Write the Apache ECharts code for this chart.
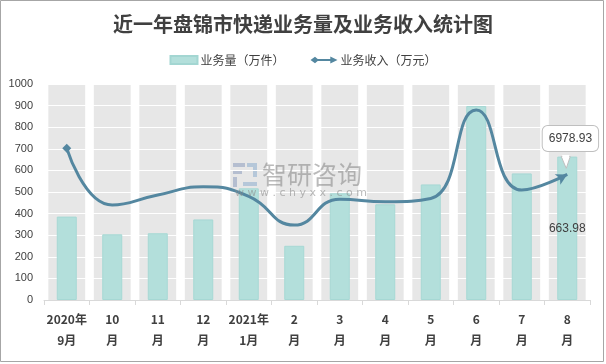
<!DOCTYPE html>
<html>
<head>
<meta charset="utf-8">
<script src="https://cdn.jsdelivr.net/npm/echarts@6/dist/echarts.min.js"></script>
<style>
html,body{margin:0;padding:0;background:#fff;}
#c{width:606px;height:364px;}
</style>
</head>
<body>
<div id="c"></div>
<script>
const categories = ['2020年\n9月','10\n月','11\n月','12\n月','2021年\n1月','2\n月','3\n月','4\n月','5\n月','6\n月','7\n月','8\n月'];
const volume = [386, 304, 309, 373, 517, 251, 494, 443, 535, 898, 586, 663.98];   // 业务量（万件）
const revenue = [8424, 5280, 5832, 6288, 5760, 4164, 5604, 5460, 5640, 10560, 6108, 6978.93]; // 业务收入（万元）
const yTicks = [0, 100, 200, 300, 400, 500, 600, 700, 800, 900, 1000];
const yMax = 1000;
const y2Max = 12000;

const lastIdx = categories.length - 1;
const chart = echarts.init(document.getElementById('c'), null, {renderer: 'canvas'});
const cjk = '"Noto Sans CJK SC", "Noto Sans", sans-serif';
const labelDist = 18;

const lineData = revenue.map((v, i) => {
  if (i === 0) return {value: v, symbol: 'diamond', symbolSize: 9};
  if (i === lastIdx) return {
    value: v, symbol: 'arrow', symbolSize: [9, 11], symbolRotate: -62,
    label: {
      show: true, position: 'top', distance: labelDist, offset: [8, 0],
      formatter: (p) => p.value.toFixed(2),
      color: '#404040', fontSize: 12, fontFamily: 'Liberation Sans, Arial, sans-serif',
      backgroundColor: '#fff', borderColor: '#bfbfbf', borderWidth: 1, borderRadius: 5,
      padding: [7, 6, 6, 6]
    }
  };
  return {value: v, symbol: 'none'};
});

const option = {
  animation: false,
  backgroundColor: '#fff',
  title: {
    text: '近一年盘锦市快递业务量及业务收入统计图',
    left: 'center', top: 9,
    textStyle: {fontSize: 20, fontWeight: 'bold', color: '#404040', fontFamily: cjk}
  },
  legend: {
    top: 49, left: 'center', itemGap: 26,
    textStyle: {fontSize: 12, color: '#404040', fontFamily: cjk, padding: [0, 0, 0, -2]},
    data: [
      {name: '业务量（万件）', icon: 'rect', itemStyle: {color: '#b3dfdb', borderColor: '#a3d6d2'}},
      {name: '业务收入（万元）', icon: 'path://M0,5 L5,1.5 L8,4 L22,4 L22,1 L30,5 L22,9 L22,6 L8,6 L5,8.5 Z', itemStyle: {color: '#5487a0'}}
    ],
    itemWidth: 27, itemHeight: 8
  },
  grid: {left: 44, right: 16, top: 84, bottom: 64},
  xAxis: [
    {
      type: 'category', data: categories,
      axisLine: {lineStyle: {color: '#d9d9d9'}},
      axisTick: {show: true, length: 5, lineStyle: {color: '#d9d9d9'}},
      axisLabel: {interval: 0, color: '#404040', fontSize: 12, fontWeight: 'bold', fontFamily: cjk, lineHeight: 21, margin: 9}
    },
    {type: 'category', data: categories, show: false}
  ],
  yAxis: [
    {
      type: 'value', min: yTicks[0], max: yMax, interval: yTicks[1] - yTicks[0],
      axisLine: {show: false}, axisTick: {show: false},
      axisLabel: {color: '#404040', fontSize: 11, fontFamily: 'Liberation Sans, Arial, sans-serif', margin: 11,
        formatter: (v) => String(v)},
      splitLine: {lineStyle: {color: '#ffffff', width: 1}}
    },
    {type: 'value', min: 0, max: y2Max, show: false, splitLine: {show: false}}
  ],
  series: [
    {
      name: 'band', type: 'bar', xAxisIndex: 1, yAxisIndex: 0, silent: true, z: -1,
      data: categories.map(() => yMax), barCategoryGap: '19%',
      itemStyle: {color: '#e7e7e7'}
    },
    {
      name: '业务量（万件）', type: 'bar', xAxisIndex: 0, yAxisIndex: 0, barWidth: 20,
      data: volume.map((v, i) => i === lastIdx ? {value: v, label: {show: true}} : v),
      itemStyle: {color: '#b3dfdb', borderColor: '#a6d8d4', borderWidth: 1},
      label: {show: false, position: 'inside', color: '#404040', fontSize: 12,
        fontFamily: 'Liberation Sans, Arial, sans-serif', formatter: (p) => p.value.toFixed(2)}
    },
    {
      name: '业务收入（万元）', type: 'line', xAxisIndex: 0, yAxisIndex: 1, smooth: 0.5,
      data: lineData, showSymbol: true,
      lineStyle: {color: '#5487a0', width: 3},
      itemStyle: {color: '#5487a0'}, z: 5
    }
  ],
  graphic: [
    {type: 'rect', shape: {x: 0.5, y: 0.5, width: 603, height: 361}, style: {fill: 'none', stroke: '#a6a6a6', lineWidth: 1}, z: 100},
    {type: 'group', left: 233, top: 163, z: 50, children: [
      {type: 'rect', shape: {x: 0, y: 0, width: 12, height: 4}, style: {fill: 'rgba(120,140,180,0.45)'}},
      {type: 'rect', shape: {x: 0, y: 7, width: 9, height: 4}, style: {fill: 'rgba(120,140,180,0.45)'}},
      {type: 'rect', shape: {x: 0, y: 14, width: 4, height: 10}, style: {fill: 'rgba(120,140,180,0.45)'}},
      {type: 'rect', shape: {x: 14, y: 0, width: 10, height: 4}, style: {fill: 'rgba(120,160,200,0.45)'}},
      {type: 'rect', shape: {x: 20, y: 4, width: 4, height: 10}, style: {fill: 'rgba(120,160,200,0.45)'}},
      {type: 'rect', shape: {x: 10, y: 19, width: 14, height: 4}, style: {fill: 'rgba(120,160,200,0.45)'}}
    ]},
    {type: 'text', left: 262, top: 162, z: 50, style: {text: '智研咨询', fill: 'rgba(140,140,140,0.6)', fontSize: 25, fontFamily: cjk}},
    {type: 'text', left: 235, top: 188, z: 50, style: {text: 'w w w . c h y x x . c o m', fill: 'rgba(140,140,140,0.6)', fontSize: 11, fontFamily: 'DejaVu Sans, sans-serif'}}
  ]
};
chart.setOption(option);

// callout tail pointing from the label box down to the last line point
const pt = chart.convertToPixel({xAxisIndex: 0, yAxisIndex: 1}, [lastIdx, revenue[lastIdx]]);
const boxBottom = Math.round(pt[1] - labelDist) + 0.5;
chart.setOption({graphic: option.graphic.concat([
  {type: 'polygon', z: 60, shape: {points: [[pt[0] - 6, boxBottom], [pt[0] + 3, boxBottom], [pt[0] - 1, pt[1] - 6]]},
   style: {stroke: '#bfbfbf', fill: '#fff', lineWidth: 1}},
  {type: 'rect', z: 61, shape: {x: pt[0] - 5, y: boxBottom - 1.5, width: 7, height: 2.5}, style: {fill: '#fff'}}
])});
</script>
</body>
</html>
